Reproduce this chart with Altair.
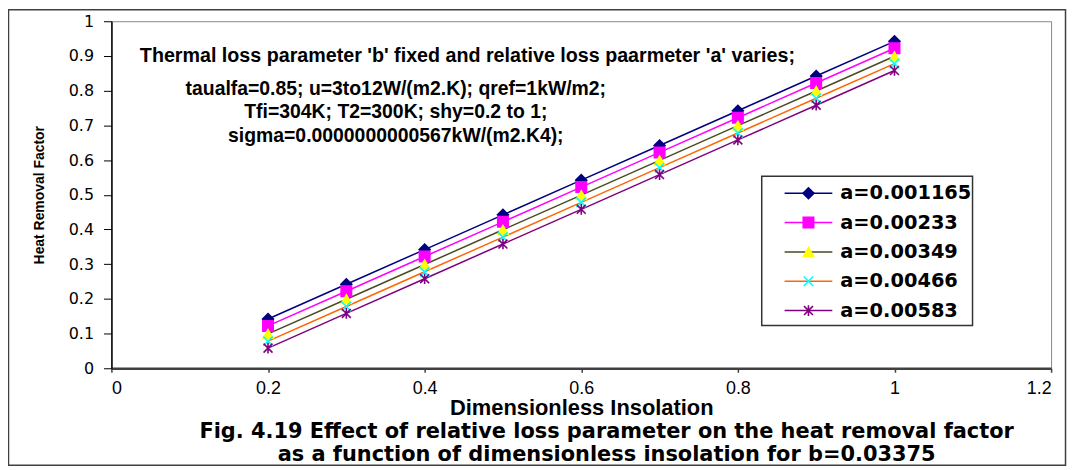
import altair as alt
import pandas as pd

# ---- data ----
insolation = [0.2, 0.3, 0.4, 0.5, 0.6, 0.7, 0.8, 0.9, 1.0]
series_names = ["a=0.001165", "a=0.00233", "a=0.00349", "a=0.00466", "a=0.00583"]
hrf_a1 = [0.142, 0.242, 0.342, 0.442, 0.542, 0.642, 0.742, 0.842, 0.942]
hrf_a2 = [0.122, 0.222, 0.322, 0.422, 0.522, 0.622, 0.722, 0.822, 0.922]
hrf_a3 = [0.099, 0.199, 0.299, 0.399, 0.499, 0.599, 0.699, 0.799, 0.899]
hrf_a4 = [0.078, 0.178, 0.278, 0.378, 0.478, 0.578, 0.678, 0.778, 0.878]
hrf_a5 = [0.058, 0.158, 0.258, 0.358, 0.458, 0.558, 0.658, 0.758, 0.858]
x_ticks = [0, 0.2, 0.4, 0.6, 0.8, 1.0, 1.2]
y_ticks = [0, 0.1, 0.2, 0.3, 0.4, 0.5, 0.6, 0.7, 0.8, 0.9, 1.0]

annotation_title = "Thermal loss parameter 'b' fixed and relative loss paarmeter 'a' varies;"
annotation_lines = [
    "taualfa=0.85; u=3to12W/(m2.K); qref=1kW/m2;",
    "Tfi=304K; T2=300K; shy=0.2 to 1;",
    "sigma=0.0000000000567kW/(m2.K4);",
]
caption_lines = [
    "Fig. 4.19 Effect of relative loss parameter on the heat removal factor",
    "as a function of dimensionless insolation for b=0.03375",
]

# ---- styles ----
line_colors = ["#000080", "#FF00FF", "#4B4B22", "#FF6600", "#800080"]
fill_colors = ["#000080", "#FF00FF", "#FFFF00", "#00FFFF", "#800080"]
stroke_colors = ["#000080", "#FF00FF", "#FFFF00", "#00FFFF", "#800080"]
shapes = [
    "diamond",
    "square",
    "triangle-up",
    "M-1,-1L1,1M-1,1L1,-1",
    "M-1,-1L1,1M-1,1L1,-1M0,-1.2L0,1.2",
]
sizes = [120, 80, 105, 50, 50]

SANS = "Liberation Sans, Arial"
WIDE = "DejaVu Sans"

rows = []
for name, vals in zip(series_names, [hrf_a1, hrf_a2, hrf_a3, hrf_a4, hrf_a5]):
    for x, y in zip(insolation, vals):
        rows.append({"series": name, "x": x, "y": y})
df = pd.DataFrame(rows)

PW, PH = 945, 349  # plot area

color_scale = alt.Scale(domain=series_names, range=line_colors)
fill_scale = alt.Scale(domain=series_names, range=fill_colors)
stroke_scale = alt.Scale(domain=series_names, range=stroke_colors)
shape_scale = alt.Scale(domain=series_names, range=shapes)
size_scale = alt.Scale(domain=series_names, range=sizes)

x_axis = alt.Axis(
    title="Dimensionless Insolation",
    values=x_ticks,
    labelExpr="datum.value == 0 ? '0' : format(datum.value, '.1~f')",
    labelOverlap=False,
    grid=False,
    domainColor="#404040",
    domainWidth=2.5,
    tickColor="#404040",
    tickWidth=1.5,
    tickSize=4,
    labelFont=SANS,
    labelFontSize=18,
    labelColor="#000000",
    labelPadding=7,
    titleFont=SANS,
    titleFontSize=22,
    titleFontWeight="bold",
    titleColor="#000000",
    titleY=40,
    titleBaseline="middle",
)
y_axis = alt.Axis(
    title="Heat Removal Factor",
    values=y_ticks,
    labelExpr="datum.value == 0 ? '0' : datum.value == 1 ? '1' : format(datum.value, '.1f')",
    labelOverlap=False,
    grid=False,
    domainColor="#000000",
    domainWidth=1.5,
    tickColor="#000000",
    tickWidth=1,
    tickSize=8,
    labelFont=WIDE,
    labelFontSize=16,
    labelColor="#000000",
    labelPadding=10,
    titleFont=SANS,
    titleFontSize=14,
    titleFontWeight="bold",
    titleColor="#000000",
    titleX=-72,
    titleY=PH / 2,
    titleAlign="center",
    titleBaseline="middle",
)
x_scale = alt.Scale(domain=[0, 1.2], nice=False)
y_scale = alt.Scale(domain=[0, 1], nice=False)

lines = alt.Chart(df).mark_line(strokeWidth=1.5).encode(
    x=alt.X("x:Q", scale=x_scale, axis=x_axis),
    y=alt.Y("y:Q", scale=y_scale, axis=y_axis),
    color=alt.Color("series:N", scale=color_scale, legend=None),
)
points = alt.Chart(df).mark_point(filled=True, opacity=1, strokeWidth=1.6).encode(
    x=alt.X("x:Q", scale=x_scale, axis=x_axis),
    y=alt.Y("y:Q", scale=y_scale, axis=y_axis),
    shape=alt.Shape("series:N", scale=shape_scale, legend=None),
    fill=alt.Fill("series:N", scale=fill_scale, legend=None),
    stroke=alt.Stroke("series:N", scale=stroke_scale, legend=None),
    size=alt.Size("series:N", scale=size_scale, legend=None),
)

one = pd.DataFrame({"k": [0]})
layers = []

# outer frame
layers.append(alt.Chart(one).mark_rect(fill=None, stroke="#404040", strokeWidth=1.5).encode(
    x=alt.value(-103.5), x2=alt.value(959.5), y=alt.value(-11.5), y2=alt.value(446.5)
))
layers += [lines, points]

# annotation texts
layers.append(alt.Chart(one).mark_text(
    text=annotation_title, font=SANS, fontSize=19.8, fontWeight="bold",
    align="center", baseline="middle", color="#000000",
).encode(x=alt.value(358), y=alt.value(35)))
for i, t in enumerate(annotation_lines):
    layers.append(alt.Chart(one).mark_text(
        text=t, font=SANS, fontSize=19.5, fontWeight="bold",
        align="center", baseline="middle", color="#000000",
    ).encode(x=alt.value(286), y=alt.value(68 + 23.5 * i)))
for i, t in enumerate(caption_lines):
    layers.append(alt.Chart(one).mark_text(
        text=t, font=WIDE, fontSize=21, fontWeight="bold",
        align="center", baseline="middle", color="#000000",
    ).encode(x=alt.value(498), y=alt.value(413 + 23 * i)))

# legend
LX0 = 766 - 112
LY0 = 176 - 20
layers.append(alt.Chart(one).mark_rect(fill="#FFFFFF", stroke="#333333", strokeWidth=1.5).encode(
    x=alt.value(LX0), x2=alt.value(LX0 + 212), y=alt.value(LY0), y2=alt.value(LY0 + 150)
))
for i, name in enumerate(series_names):
    ly = LY0 + 17 + 29.5 * i
    row = pd.DataFrame({"series": [name]})
    layers.append(alt.Chart(row).mark_rule(strokeWidth=1.5).encode(
        x=alt.value(LX0 + 23), x2=alt.value(LX0 + 71), y=alt.value(ly),
        color=alt.Color("series:N", scale=color_scale, legend=None),
    ))
    layers.append(alt.Chart(row).mark_point(filled=True, opacity=1, strokeWidth=1.6).encode(
        x=alt.value(LX0 + 47), y=alt.value(ly),
        shape=alt.Shape("series:N", scale=shape_scale, legend=None),
        fill=alt.Fill("series:N", scale=fill_scale, legend=None),
        stroke=alt.Stroke("series:N", scale=stroke_scale, legend=None),
        size=alt.Size("series:N", scale=size_scale, legend=None),
    ))
    layers.append(alt.Chart(row).mark_text(
        font=WIDE, fontSize=19.5, fontWeight="bold", align="left", baseline="middle", color="#000000"
    ).encode(x=alt.value(LX0 + 79), y=alt.value(ly), text="series:N"))

chart = alt.layer(*layers).properties(
    width=PW,
    height=PH,
    autosize=alt.AutoSizeParams(type="none"),
    padding={"left": 104, "top": 12, "right": 16, "bottom": 98},
    background="#FFFFFF",
).configure_view(
    stroke="#888888", strokeWidth=1
)

chart.save("out.html", embed_options={"renderer": "svg", "actions": False})
